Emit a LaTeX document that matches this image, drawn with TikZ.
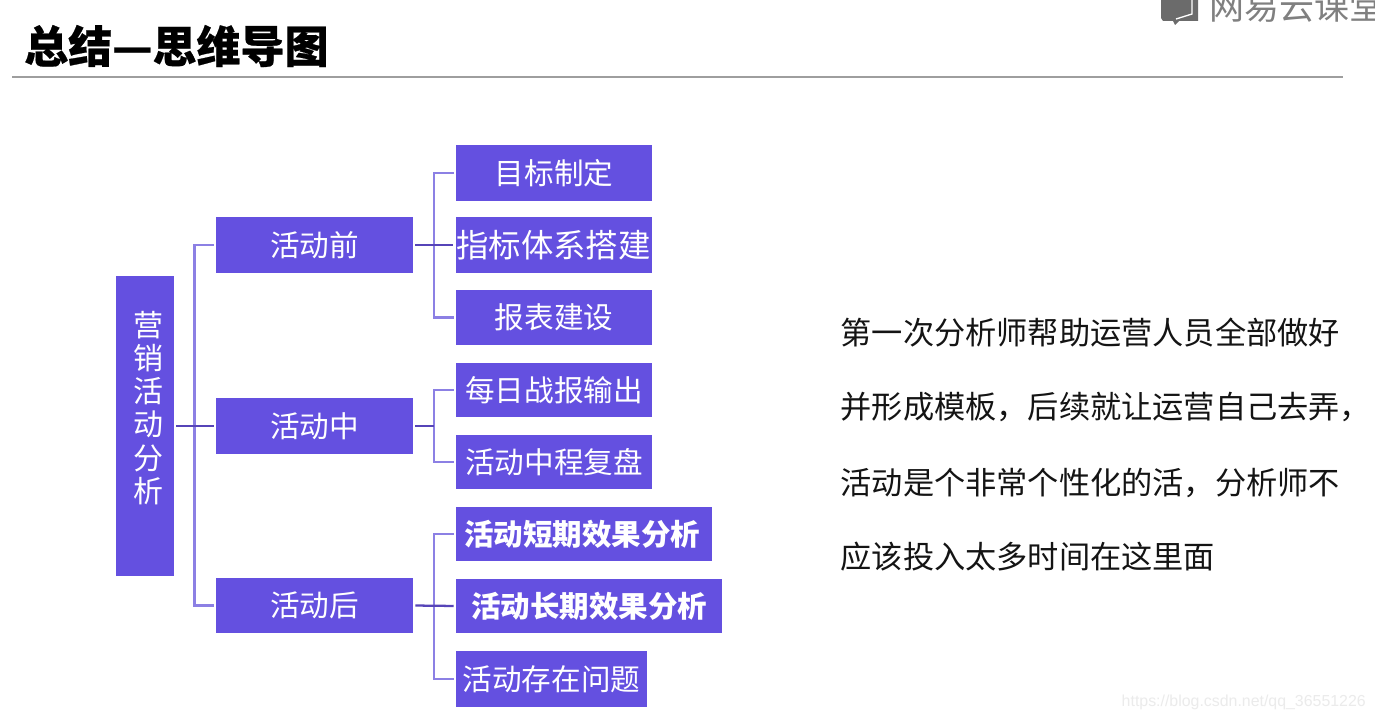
\documentclass[tikz,border=0pt]{standalone}
\usepackage{fontspec}
\setmainfont{Noto Sans CJK SC}
\newfontfamily\titlefont[BoldFeatures={FakeBold=0.5}]{Noto Sans CJK SC}
\newfontfamily\wmfont{Liberation Sans}
\newcommand{\pxf}[1]{\fontsize{\dimexpr#1pt*3/4\relax}{\dimexpr#1pt*9/10\relax}\selectfont}
\definecolor{boxc}{HTML}{6450E0}
\definecolor{linec}{HTML}{8C80E4}
\definecolor{linedark}{HTML}{5644B8}
\tikzset{
  x=0.75pt,y=-0.75pt,
  pbox/.style={fill=boxc,draw=none,text=white,inner sep=0pt,font=\pxf{29.6}},
  lbus/.style={draw=linec,line width=1.7pt,line join=miter},
  ldark/.style={draw=linedark,line width=1.7pt},
  bodyline/.style={anchor=west,inner sep=0pt,text=black!92,font=\pxf{31.2}},
}
\begin{document}
\begin{tikzpicture}
\useasboundingbox (0,0) rectangle (1375,720);
\fill[white] (0,0) rectangle (1375,720);
\begin{scope}
\clip (0,0) rectangle (1375,720);
% logo
\fill[black!58] (1161,-2) -- (1198,-2) -- (1198,21) -- (1179,21) -- (1175,25) -- (1173,21) -- (1163,21) -- (1161,18) -- cycle;
\draw[white,line width=1pt] (1176,19) -- (1192,14) -- (1192,-2);
\node[anchor=west,inner sep=0pt,text=black!50,font=\pxf{35}] (logo) at (1209.5,6.5) {网易云课堂};
\end{scope}
% title
\node[anchor=west,inner sep=0pt,text=black,font=\titlefont\pxf{44}\bfseries] (title) at (24,46) {总结—思维导图};
\coordinate (ruleL) at (12,77);
\coordinate (ruleR) at (1343,77);
\draw[black!38,line width=1.1pt] (ruleL) -- (ruleR);
% nodes
\node[pbox,minimum width=43.5pt,minimum height=225pt] (root) at (145,426) {};
\node[inner sep=0pt,text=white,align=center,font=\fontsize{22.5pt}{24.8pt}\selectfont] (rootlabel) at (148,408) {营\\销\\活\\动\\分\\析};
\node[pbox,minimum width=147.75pt,minimum height=42pt] (pre) at (314.5,245) {活动前};
\node[pbox,minimum width=147.75pt,minimum height=42pt] (mid) at (314.5,426) {活动中};
\node[pbox,minimum width=147.75pt,minimum height=41.25pt] (post) at (314.5,605.5) {活动后};
\node[pbox,minimum width=147pt,minimum height=42pt] (a1) at (554,173) {目标制定};
\node[pbox,minimum width=147pt,minimum height=42pt,font=\pxf{32.4}] (a2) at (553.5,245) {指标体系搭建};
\node[pbox,minimum width=147pt,minimum height=41.25pt] (a3) at (554,317.5) {报表建设};
\node[pbox,minimum width=147pt,minimum height=40.5pt] (b1) at (554,390) {每日战报输出};
\node[pbox,minimum width=147pt,minimum height=40.5pt] (b2) at (554,462) {活动中程复盘};
\node[pbox,minimum width=192pt,minimum height=40.5pt,font=\pxf{29.5}\bfseries] (c1) at (584,534) {\hspace*{-3pt}活动短期效果分析};
\node[pbox,minimum width=199.5pt,minimum height=40.5pt,font=\pxf{29.5}\bfseries] (c2) at (589,606) {活动长期效果分析};
\node[pbox,minimum width=143.25pt,minimum height=42pt] (c3) at (551.5,679) {活动存在问题};
% connectors
\coordinate (busR) at (194.5,426);
\coordinate (busA) at (434,245);
\coordinate (busB) at (434,426);
\coordinate (busC) at (434,606);
\draw[lbus,shorten >=1.5pt] (busR) |- (pre.west);
\draw[lbus,shorten >=1.5pt] (busR) |- (post.west);
\draw[lbus,shorten >=1.5pt] (busA) |- (a1.west);
\draw[lbus,shorten >=1.5pt] (busA) |- (a3.west);
\draw[lbus,shorten >=1.5pt] (busB) |- (b1.west);
\draw[lbus,shorten >=1.5pt] (busB) |- (b2.west);
\draw[lbus,shorten >=1.5pt] (busC) |- (c1.west);
\draw[lbus,shorten >=1.5pt] (busC) |- (c3.west);
\draw[ldark,shorten <=1.5pt,shorten >=1.5pt] (root.east) -- (mid.west);
\draw[ldark,shorten <=1.5pt,shorten >=1.5pt] (pre.east) -- (a2.west);
\draw[ldark,shorten <=1.5pt,shorten >=0pt] (mid.east) -- (busB);
\draw[ldark,shorten <=1.5pt,shorten >=1.5pt] (post.east) -- (c2.west);
% body text
\node[bodyline] (t1) at (840.5,333) {第一次分析师帮助运营人员全部做好};
\node[bodyline] (t2) at (840.5,407) {并形成模板，后续就让运营自己去弄，};
\node[bodyline] (t3) at (840.5,483) {活动是个非常个性化的活，分析师不};
\node[bodyline] (t4) at (840.5,557) {应该投入太多时间在这里面};
% watermark
\node[anchor=east,inner sep=0pt,text=black!8,font=\wmfont\pxf{15.9}] (wm) at (1366,702) {https://blog.csdn.net/qq\_36551226};
\end{tikzpicture}
\end{document}
